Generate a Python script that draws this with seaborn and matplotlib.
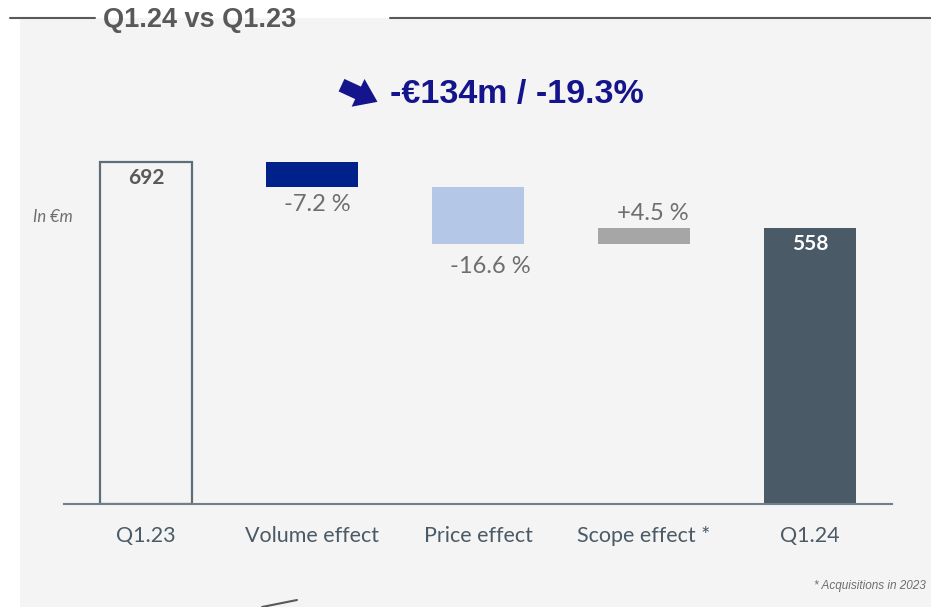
import matplotlib
matplotlib.use("Agg")
import matplotlib.pyplot as plt
import seaborn as sns
import pandas as pd
from matplotlib.lines import Line2D
from matplotlib.patches import Rectangle, FancyArrowPatch

# Data (in €m)
categories = ["Q1.23", "Volume effect", "Price effect", "Scope effect *", "Q1.24"]
start_value = 692
effects = [-50, -115, 31]
end_value = 558
effect_labels = ["-7.2 %", "-16.6 %", "+4.5 %"]
headline = "-€134m / -19.3%"
title = "Q1.24 vs Q1.23"

# Build waterfall bottoms / heights
bottoms = [0]
heights = [start_value]
level = start_value
for d in effects:
    bottoms.append(min(level, level + d))
    heights.append(abs(d))
    level += d
bottoms.append(0)
heights.append(end_value)

df = pd.DataFrame({"category": categories, "height": heights, "bottom": bottoms})

panel = "#f4f4f4"
bar_colors = [panel, "#00208a", "#b4c7e7", "#a6a6a6", "#4a5a66"]
gray_txt = "#6e6e6e"
navy = "#14148c"

sns.set_theme(style="white")
plt.rcParams["font.family"] = ["Lato", "DejaVu Sans"]

W, H = 931, 607
fig = plt.figure(figsize=(W / 100, H / 100), dpi=100)
fig.patch.set_facecolor("white")

# gray background panel
fig.add_artist(Rectangle((20 / W, 0), 1, 1 - 18 / H, transform=fig.transFigure,
                         facecolor=panel, edgecolor="none", zorder=0))

ax = fig.add_axes([64 / W, 1 - 504 / H, (892 - 64) / W, (504 - 140) / H])
ax.set_facecolor("none")

sns.barplot(data=df, x="category", y="height", hue="category", palette=bar_colors,
            legend=False, width=0.555, saturation=1, ax=ax)

# move floating bars to their bottoms
for cont, b in zip(ax.containers, bottoms):
    for p in cont:
        p.set_y(b)
        p.set_edgecolor("none")

first = ax.containers[0][0]
first.set_edgecolor("#5e6e78")
first.set_linewidth(1.6)

ax.set_xlim(-0.494, 4.494)
ax.set_ylim(0, 737)
ax.set_xlabel("")
ax.set_ylabel("")
ax.set_yticks([])
ax.tick_params(axis="x", length=0, pad=16, labelsize=15.5, labelcolor="#4a5a66")
sns.despine(ax=ax, left=True)
ax.spines["bottom"].set_color("#6f8089")
ax.spines["bottom"].set_linewidth(1.5)

# totals
ax.annotate(str(start_value), (0, start_value), xytext=(0, -4), textcoords="offset points",
            ha="center", va="top", fontsize=15, fontweight="bold", color="#595959")
ax.annotate(str(end_value), (4, end_value), xytext=(0, -4), textcoords="offset points",
            ha="center", va="top", fontsize=15, fontweight="bold", color="white")

# effect labels
tops = [b + h for b, h in zip(bottoms, heights)]
offsets = [(4, -5), (9, -9), (6, 3)]
for i, (lab, off) in enumerate(zip(effect_labels, offsets), start=1):
    if effects[i - 1] < 0:
        ax.annotate(lab, (i, bottoms[i]), xytext=off, textcoords="offset points",
                    ha="center", va="top", fontsize=17, color=gray_txt)
    else:
        ax.annotate(lab, (i, tops[i]), xytext=off, textcoords="offset points",
                    ha="center", va="bottom", fontsize=17, color=gray_txt)

# unit note
fig.text(33 / W, 1 - 217 / H, "In €m", fontsize=12, style="italic", color=gray_txt, va="center")

# headline with arrow
fig.text(390 / W, 1 - 94 / H, headline, family=["Liberation Sans", "DejaVu Sans"],
         fontweight="bold", fontsize=24.5, color=navy, va="center")
fig.add_artist(FancyArrowPatch((339 / W, 1 - 84 / H), (380 / W, 1 - 103 / H),
                               transform=fig.transFigure,
                               arrowstyle="simple,head_length=0.7,head_width=1.0,tail_width=0.45",
                               mutation_scale=22, color=navy, lw=0))

# section title with rules
fig.text(103 / W, 1 - 20 / H, title, family=["Liberation Sans", "DejaVu Sans"],
         fontweight="bold", fontsize=19.5, color="#595959", va="center")
fig.add_artist(Line2D([10 / W, 95 / W], [1 - 18 / H] * 2, transform=fig.transFigure,
                      color="#595959", lw=1.5))
fig.add_artist(Line2D([390 / W, 1], [1 - 18 / H] * 2, transform=fig.transFigure,
                      color="#595959", lw=1.5))

# footnote, kept inside the figure
fig.text(926 / W, 1 - 586 / H, "* Acquisitions in 2023", fontsize=8.5, style="italic",
         color=gray_txt, va="center", ha="right", family=["Liberation Sans", "DejaVu Sans"])

# small stroke at the bottom left
fig.add_artist(Line2D([262 / W, 297 / W], [0, 7 / H], transform=fig.transFigure,
                      color="#595959", lw=1.5))

fig.savefig("out.png", dpi=100)
